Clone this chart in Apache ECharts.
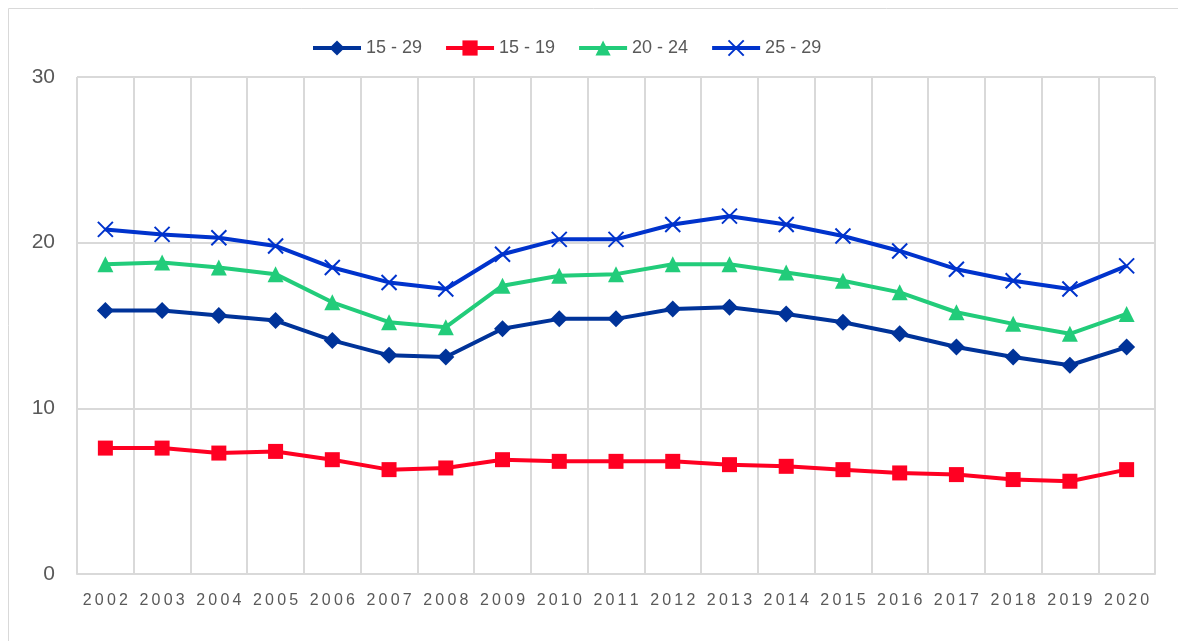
<!DOCTYPE html>
<html lang="en">
<head>
  <meta charset="UTF-8">
  <title>15 - 29</title>
  <script src="https://cdn.jsdelivr.net/npm/echarts/dist/echarts.min.js"></script>
  <style>
    html, body { margin: 0; padding: 0; background: #fff; }
    #chart { width: 1178px; height: 641px; }
  </style>
</head>
<body>
<div id="chart"></div>
<script>
  // data
  var years = ['2002', '2003', '2004', '2005', '2006', '2007', '2008', '2009', '2010', '2011',
    '2012', '2013', '2014', '2015', '2016', '2017', '2018', '2019', '2020'];
  var age15to29 = [15.9, 15.9, 15.6, 15.3, 14.1, 13.2, 13.1, 14.8, 15.4, 15.4, 16.0, 16.1, 15.7, 15.2, 14.5, 13.7, 13.1, 12.6, 13.7];
  var age15to19 = [7.6, 7.6, 7.3, 7.4, 6.9, 6.3, 6.4, 6.9, 6.8, 6.8, 6.8, 6.6, 6.5, 6.3, 6.1, 6.0, 5.7, 5.6, 6.3];
  var age20to24 = [18.7, 18.8, 18.5, 18.1, 16.4, 15.2, 14.9, 17.4, 18.0, 18.1, 18.7, 18.7, 18.2, 17.7, 17.0, 15.8, 15.1, 14.5, 15.7];
  var age25to29 = [20.8, 20.5, 20.3, 19.8, 18.5, 17.6, 17.2, 19.3, 20.2, 20.2, 21.1, 21.6, 21.1, 20.4, 19.5, 18.4, 17.7, 17.2, 18.6];
  var yTicks = [0, 10, 20, 30];

  var chart = echarts.init(document.getElementById('chart'));
  var gridColor = '#d9d9d9';
  var textColor = '#595959';

  function makeSeries(name, data, color, symbol, size, extra) {
    var s = {
      name: name,
      type: 'line',
      data: data,
      symbol: symbol,
      symbolSize: size,
      showAllSymbol: true,
      lineStyle: { color: color, width: 4 },
      itemStyle: { color: color },
      emphasis: { disabled: true }
    };
    return Object.assign(s, extra || {});
  }

  var option = {
    animation: false,
    graphic: [{
      type: 'rect',
      shape: { x: 8.5, y: 8.5, width: 1300, height: 800 },
      style: { fill: 'none', stroke: gridColor, lineWidth: 1 },
      silent: true
    }],
    legend: {
      top: 34,
      left: 306,
      itemWidth: 48,
      itemHeight: 19,
      itemGap: 22,
      lineStyle: { width: 4 },
      textStyle: { fontSize: 18, color: textColor, fontFamily: 'Liberation Sans, Arial, sans-serif' },
      data: ['15 - 29', '15 - 19', '20 - 24', '25 - 29']
    },
    grid: { left: 77, right: 23, top: 77, bottom: 67 },
    xAxis: {
      type: 'category',
      data: years,
      boundaryGap: true,
      axisLine: { lineStyle: { color: gridColor, width: 2 } },
      axisTick: { show: false },
      splitLine: { show: true, lineStyle: { color: gridColor, width: 2 } },
      axisLabel: {
        color: textColor,
        fontSize: 16,
        fontFamily: 'Liberation Sans, Arial, sans-serif',
        margin: 19,
        interval: 0,
        formatter: function (v) { return v.split('').join('\u2009'); }
      }
    },
    yAxis: {
      type: 'value',
      min: yTicks[0],
      max: yTicks[yTicks.length - 1],
      interval: 10,
      axisLine: { show: false },
      axisTick: { show: false },
      splitLine: { lineStyle: { color: gridColor, width: 2 } },
      axisLabel: {
        color: textColor,
        fontSize: 21,
        fontFamily: 'Liberation Sans, Arial, sans-serif',
        margin: 22
      }
    },
    series: [
      makeSeries('15 - 29', age15to29, '#003399', 'diamond', 17),
      makeSeries('15 - 19', age15to19, '#ff0022', 'rect', 15),
      makeSeries('20 - 24', age20to24, '#22cc7a', 'triangle', 16),
      makeSeries('25 - 29', age25to29, '#0033cc', 'path://M0,0L10,10M10,0L0,10', 15, {
        itemStyle: { color: '#0033cc', borderColor: '#0033cc', borderWidth: 2 }
      })
    ]
  };

  chart.setOption(option);
</script>
</body>
</html>
